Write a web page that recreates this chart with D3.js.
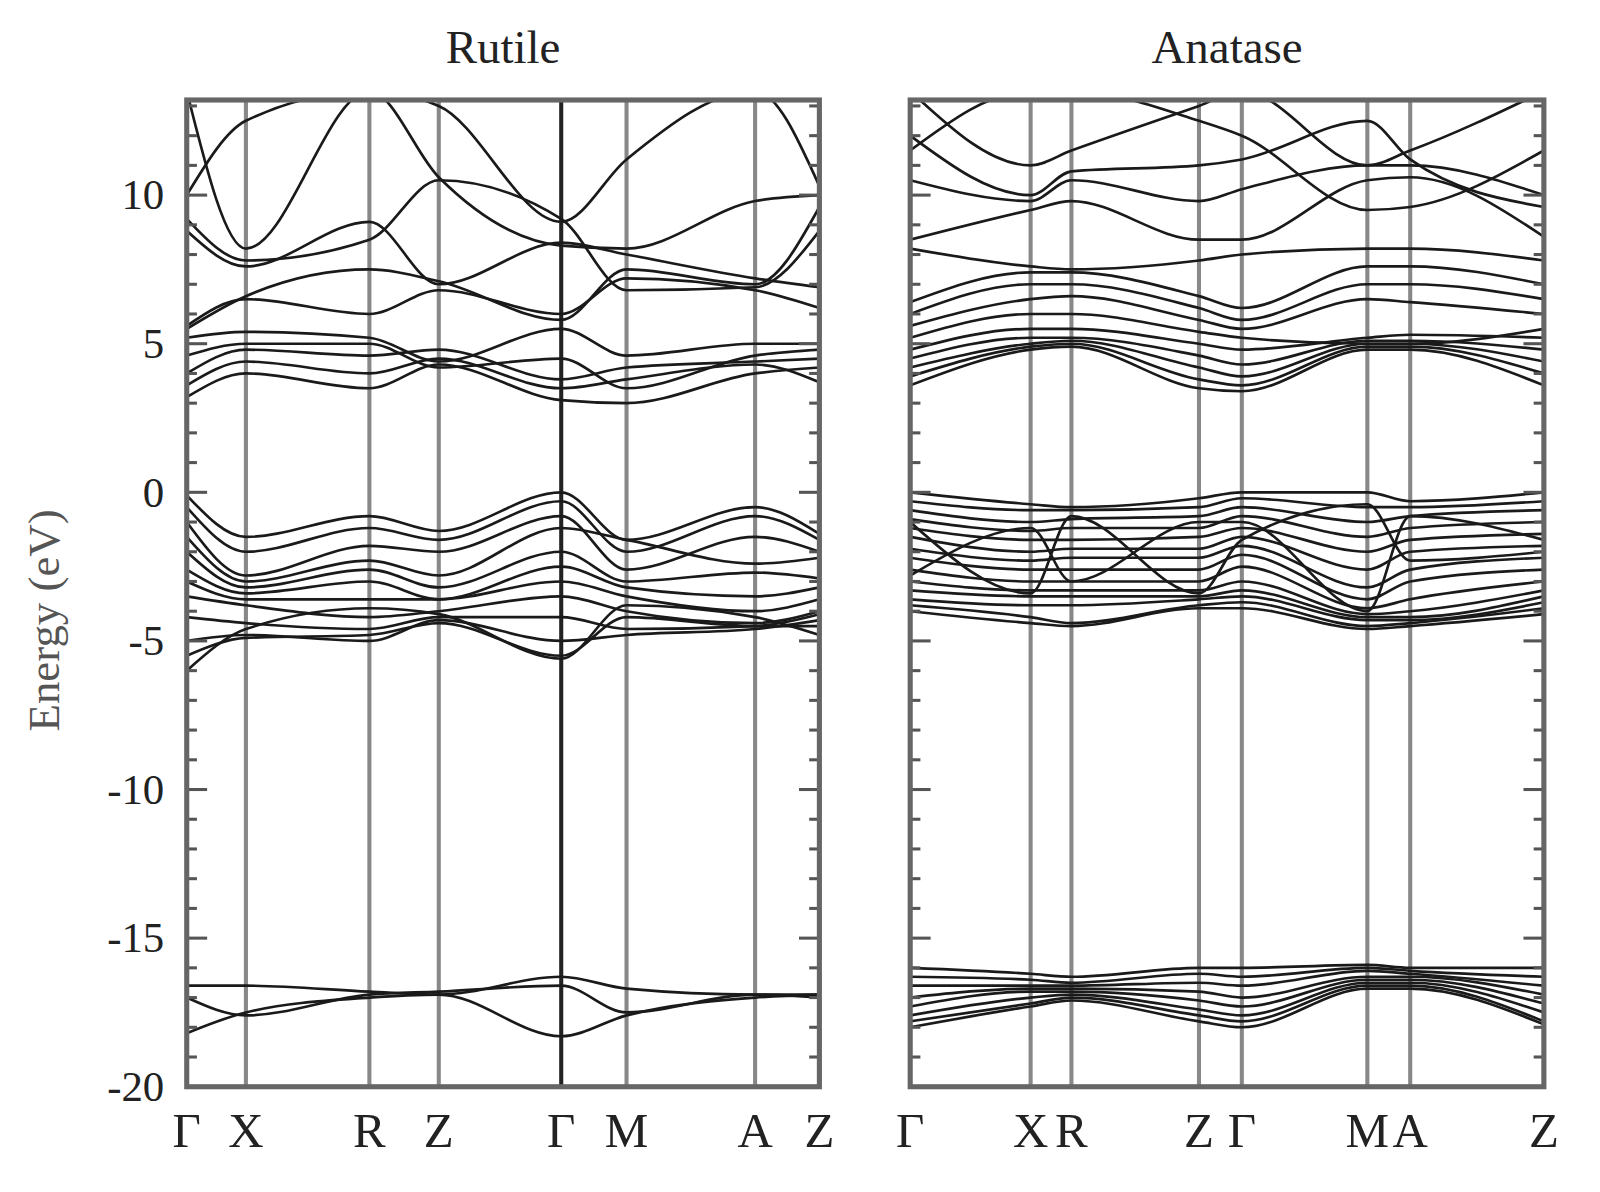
<!DOCTYPE html>
<html><head><meta charset="utf-8">
<script src="https://cdn.jsdelivr.net/npm/d3@7"></script>
<style>body{margin:0;background:#fff}text{font-family:"Liberation Serif","DejaVu Serif",serif;fill:#222}</style>
</head><body><svg id="c" width="1600" height="1192"></svg>
<script>
// k-path positions (relative units) and labels
const rutileK = [0, 58, 179, 247, 367, 431, 557, 620];
const rutileKLabels = ["Γ", "X", "R", "Z", "Γ", "M", "A", "Z"];
const anataseK = [0, 118, 158, 283, 325, 448, 490, 621];
const anataseKLabels = ["Γ", "X", "R", "Z", "Γ", "M", "A", "Z"];
const yTicks = [-20, -15, -10, -5, 0, 5, 10];

// energies (eV) at each high-symmetry point
const rutileBands = [
  [-18.2, -17.5, -17.0, -16.9, -18.3, -17.6, -17.0, -16.9],
  [-16.6, -16.6, -16.8, -16.9, -16.3, -16.7, -16.9, -16.9],
  [-17.0, -17.6, -16.9, -16.8, -16.6, -17.5, -16.9, -17.0],
  [-0.1, -1.5, -0.8, -1.3, 0.0, -1.6, -0.5, -1.4],
  [-0.5, -2.0, -1.2, -1.6, -0.3, -2.0, -0.8, -1.6],
  [-1.0, -2.8, -1.8, -2.0, -0.8, -2.6, -1.5, -2.0],
  [-1.5, -3.0, -2.3, -2.8, -1.2, -1.6, -2.4, -2.2],
  [-2.0, -3.2, -2.6, -3.2, -2.0, -3.0, -2.7, -2.9],
  [-2.6, -3.4, -3.0, -3.6, -2.5, -3.2, -3.5, -3.2],
  [-3.0, -3.6, -3.6, -3.6, -3.0, -3.5, -4.0, -3.6],
  [-3.5, -3.8, -4.2, -4.0, -3.5, -4.0, -4.4, -4.0],
  [-4.2, -4.4, -4.6, -4.2, -4.2, -4.6, -4.5, -4.1],
  [-5.0, -4.8, -5.0, -4.3, -5.0, -4.8, -4.6, -4.3],
  [-5.5, -4.9, -4.8, -4.4, -5.5, -4.2, -4.5, -4.5],
  [-6.0, -4.6, -3.9, -4.1, -5.6, -3.8, -4.2, -4.8],
  [3.2, 4.0, 3.5, 4.3, 3.1, 3.0, 4.0, 4.2],
  [3.6, 4.4, 4.0, 4.5, 3.5, 3.8, 4.3, 3.7],
  [4.0, 4.8, 4.6, 4.8, 3.8, 4.2, 4.4, 4.5],
  [4.6, 5.0, 5.0, 4.2, 4.5, 3.5, 4.6, 4.8],
  [5.2, 5.4, 5.2, 4.4, 5.5, 4.6, 5.0, 5.0],
  [5.6, 6.5, 6.0, 6.8, 6.0, 7.2, 6.8, 6.2],
  [8.8, 7.6, 9.1, 7.0, 8.4, 8.0, 7.2, 6.9],
  [9.2, 7.8, 8.5, 10.5, 9.2, 6.8, 6.9, 8.8],
  [10.0, 12.5, 13.5, 13.0, 9.1, 11.2, 13.5, 10.3],
  [5.5, 6.6, 7.5, 7.1, 5.8, 7.5, 7.0, 9.6],
  [13.5, 8.2, 13.5, 10.6, 8.3, 8.2, 9.8, 10.0]
];

const anataseBands = [
  [-16.0, -16.2, -16.3, -16.0, -16.0, -15.9, -16.0, -16.0],
  [-16.3, -16.4, -16.5, -16.2, -16.3, -16.0, -16.1, -16.3],
  [-16.6, -16.6, -16.6, -16.5, -16.6, -16.1, -16.2, -16.6],
  [-17.0, -16.7, -16.7, -16.8, -17.0, -16.3, -16.3, -16.9],
  [-17.3, -16.8, -16.8, -17.1, -17.3, -16.4, -16.4, -17.2],
  [-17.6, -17.0, -16.9, -17.4, -17.6, -16.5, -16.5, -17.5],
  [-17.8, -17.2, -17.0, -17.6, -17.8, -16.6, -16.6, -17.8],
  [-18.0, -17.3, -17.1, -17.8, -18.0, -16.7, -16.7, -17.9],
  [0.0, -0.4, -0.5, -0.2, 0.0, 0.0, -0.3, 0.0],
  [-0.3, -0.6, -0.6, -0.5, -0.2, -0.5, -0.5, -0.3],
  [-0.6, -1.0, -0.9, -0.8, -0.5, -1.0, -0.8, -0.6],
  [-0.9, -1.3, -1.2, -1.2, -0.8, -1.5, -1.2, -1.0],
  [-1.2, -1.6, -1.6, -1.5, -1.2, -2.0, -1.6, -1.4],
  [-1.5, -2.0, -1.9, -1.9, -1.5, -2.6, -2.0, -1.8],
  [-1.9, -2.3, -2.2, -2.2, -1.8, -3.2, -2.6, -2.2],
  [-2.2, -2.6, -2.6, -2.6, -2.1, -3.6, -3.0, -2.6],
  [-2.6, -3.0, -3.0, -3.0, -2.5, -3.9, -3.6, -3.0],
  [-3.0, -3.3, -3.3, -3.3, -3.0, -4.1, -4.0, -3.3],
  [-3.3, -3.5, -3.5, -3.5, -3.3, -4.2, -4.2, -3.5],
  [-3.6, -3.8, -3.8, -3.6, -3.5, -4.3, -4.3, -3.7],
  [-3.8, -4.2, -4.4, -3.8, -3.7, -4.5, -4.4, -3.9],
  [-4.0, -4.4, -4.5, -3.9, -3.9, -4.6, -4.5, -4.1],
  [-2.8, -1.2, -3.0, -1.0, -1.0, -4.0, -0.8, -1.6],
  [-1.0, -3.4, -0.8, -3.4, -1.6, -0.4, -2.3, -2.0],
  [3.6, 4.8, 4.9, 3.5, 3.4, 4.8, 4.8, 3.6],
  [3.9, 4.9, 5.0, 3.8, 3.6, 4.9, 4.9, 4.0],
  [4.2, 5.0, 5.1, 4.2, 3.9, 5.0, 5.0, 4.4],
  [4.5, 5.2, 5.2, 4.6, 4.3, 5.1, 5.1, 4.8],
  [4.8, 5.5, 5.5, 5.0, 4.8, 5.2, 5.3, 5.2],
  [5.2, 6.0, 6.0, 5.4, 5.2, 5.0, 5.0, 5.5],
  [5.6, 6.5, 6.6, 5.8, 5.5, 6.5, 6.4, 6.0],
  [6.0, 7.0, 7.0, 6.2, 5.8, 7.0, 7.0, 6.5],
  [6.4, 7.4, 7.4, 6.6, 6.2, 7.6, 7.6, 7.0],
  [8.2, 7.6, 7.5, 7.8, 8.0, 8.2, 8.2, 7.8],
  [8.5, 9.5, 9.8, 8.5, 8.5, 10.5, 10.6, 8.6],
  [10.5, 9.8, 10.5, 9.8, 10.2, 11.0, 11.0, 10.0],
  [12.0, 10.0, 10.8, 11.0, 11.2, 12.5, 11.2, 9.6],
  [13.5, 11.0, 11.5, 13.0, 13.5, 11.0, 11.5, 13.5],
  [11.5, 13.5, 13.5, 12.5, 12.0, 9.5, 9.6, 11.5]
];

const root = d3.select("#c").append("g").attr("transform", `scale(${1600 / 1568})`);
const y = d3.scaleLinear().domain([-20, 13.2]).range([1065, 98]);

function panel(x0, x1, kPos, kLabels, bands, title, showY) {
  const x = d3.scaleLinear().domain([0, d3.max(kPos)]).range([x0, x1]);
  const g = root.append("g");
  const clipId = "clip" + x0;
  g.append("clipPath").attr("id", clipId).append("rect")
    .attr("x", x0).attr("y", 98).attr("width", x1 - x0).attr("height", 1065 - 98);

  // high-symmetry vertical lines
  g.selectAll("line.k").data(kPos.slice(1, -1)).join("line")
    .attr("x1", d => x(d)).attr("x2", d => x(d)).attr("y1", 98).attr("y2", 1065)
    .attr("stroke", (d, i) => (showY && kLabels[i + 1] === "Γ") ? "#222" : "#888")
    .attr("stroke-width", 4);

  const line = d3.line().x((d, i) => x(kPos[i])).y(d => y(d)).curve(d3.curveMonotoneX);
  g.append("g").attr("clip-path", `url(#${clipId})`)
    .selectAll("path").data(bands).join("path")
    .attr("d", line).attr("fill", "none").attr("stroke", "#1a1a1a").attr("stroke-width", 2.6);

  // ticks inside both sides
  const minor = d3.range(-20, 14, 1);
  [x0, x1].forEach((xe, s) => {
    const dir = s === 0 ? 1 : -1;
    g.selectAll(null).data(minor).join("line")
      .attr("x1", xe).attr("x2", d => xe + dir * (d % 5 === 0 ? 20 : 10))
      .attr("y1", d => y(d)).attr("y2", d => y(d))
      .attr("stroke", "#555").attr("stroke-width", 3);
  });

  g.append("rect").attr("x", x0).attr("y", 98).attr("width", x1 - x0).attr("height", 1065 - 98)
    .attr("fill", "none").attr("stroke", "#666").attr("stroke-width", 5);

  g.append("text").attr("x", (x0 + x1) / 2).attr("y", 62).attr("text-anchor", "middle")
    .attr("font-size", 46).text(title);

  const kl = kLabels.map((l, i) => ({ l, p: kPos[i] }));
  g.selectAll("text.kl").data(kl).join("text")
    .attr("x", d => x(d.p)).attr("y", 1124).attr("text-anchor", "middle")
    .attr("font-size", 48).text(d => d.l);

  if (showY) {
    g.selectAll("text.yt").data(yTicks).join("text")
      .attr("x", x0 - 22).attr("y", d => y(d) + 14).attr("text-anchor", "end")
      .attr("font-size", 42).text(d => d);
  }
}

panel(183, 803, rutileK, rutileKLabels, rutileBands, "Rutile", true);
panel(892, 1513, anataseK, anataseKLabels, anataseBands, "Anatase", false);

root.append("text").attr("transform", "translate(58,608) rotate(-90)")
  .attr("text-anchor", "middle").attr("font-size", 44).style("fill", "#555").text("Energy (eV)");
</script></body></html>
